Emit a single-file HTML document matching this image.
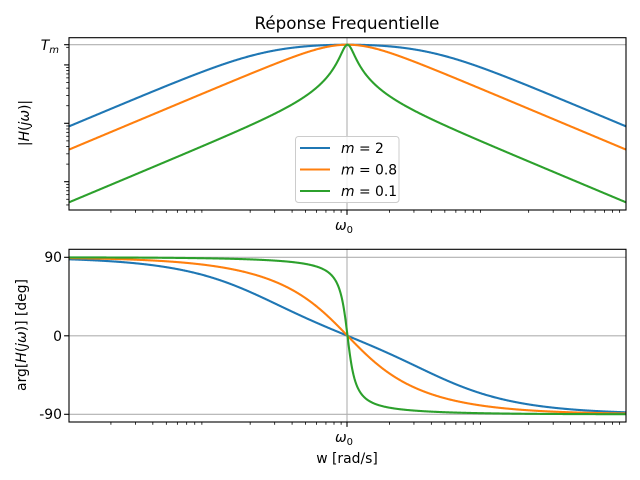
<!DOCTYPE html>
<html><head><meta charset="utf-8"><style>
html,body{margin:0;padding:0;background:#fff;}
svg{display:block;font-family:"DejaVu Sans","Liberation Sans",sans-serif;}
</style></head><body>
<svg id="s" width="640" height="480" viewBox="0 0 640 480" xmlns="http://www.w3.org/2000/svg">
<rect width="640" height="480" fill="#fff"/>
<g id="g"></g>
<text x="347" y="29" font-size="16.7" text-anchor="middle" fill="#000">Réponse Frequentielle</text>
<text x="59" y="50" font-size="13.9" text-anchor="end" font-style="italic">T<tspan font-size="10" dy="3">m</tspan></text>
<text x="62" y="262" font-size="13.9" text-anchor="end">90</text>
<text x="62" y="341" font-size="13.9" text-anchor="end">0</text>
<text x="62" y="419" font-size="13.9" text-anchor="end">-90</text>
<text x="344" y="230" font-size="13.9" text-anchor="middle" font-style="italic">ω<tspan font-size="10" dy="3" font-style="normal">0</tspan></text>
<text x="344" y="442" font-size="13.9" text-anchor="middle" font-style="italic">ω<tspan font-size="10" dy="3" font-style="normal">0</tspan></text>
<text x="347" y="463" font-size="13.9" text-anchor="middle">w [rad/s]</text>
<text transform="translate(29,123) rotate(-90)" font-size="13.9" text-anchor="middle">|<tspan font-style="italic">H</tspan>(<tspan font-style="italic">jω</tspan>)|</text>
<text transform="translate(26,335) rotate(-90)" font-size="13.9" text-anchor="middle">arg[<tspan font-style="italic">H</tspan>(<tspan font-style="italic">jω</tspan>)] [deg]</text>
<g id="leg">
<rect x="295.5" y="136.5" width="103.5" height="66" rx="3" fill="#fff" fill-opacity="0.85" stroke="#ccc" stroke-width="1"/>
<line x1="300" y1="148" x2="330" y2="148" stroke="#1f77b4" stroke-width="2.1"/>
<line x1="300" y1="169.5" x2="330" y2="169.5" stroke="#ff7f0e" stroke-width="2.1"/>
<line x1="300" y1="191" x2="330" y2="191" stroke="#2ca02c" stroke-width="2.1"/>
<text x="341" y="153" font-size="13.9"><tspan font-style="italic">m</tspan> = 2</text>
<text x="341" y="174.5" font-size="13.9"><tspan font-style="italic">m</tspan> = 0.8</text>
<text x="341" y="196" font-size="13.9"><tspan font-style="italic">m</tspan> = 0.1</text>
</g>
</svg>
<script>
(function(){
var NS="http://www.w3.org/2000/svg",g=document.getElementById("g");
function el(t,a){var e=document.createElementNS(NS,t);for(var k in a)e.setAttribute(k,a[k]);g.appendChild(e);return e;}
var X0=69,X1=626,K=(X1-X0)/4;
function xp(lu){return X0+(lu+2)*K;}
var T={y0:37.7,y1:210},B={y0:249.3,y1:422};
el("line",{x1:X0,x2:X1,y1:44.7,y2:44.7,stroke:"#b0b0b0","stroke-width":1.1});
el("line",{x1:347,x2:347,y1:T.y0,y2:T.y1,stroke:"#b0b0b0","stroke-width":1.1});
[257.3,335.8,414.3].forEach(function(y){el("line",{x1:X0,x2:X1,y1:y,y2:y,stroke:"#b0b0b0","stroke-width":1.1});});
el("line",{x1:347,x2:347,y1:B.y0,y2:B.y1,stroke:"#b0b0b0","stroke-width":1.1});
var ms=[[2,"#1f77b4"],[0.8,"#ff7f0e"],[0.1,"#2ca02c"]];
var clipT=el("clipPath",{id:"ct"});var r=document.createElementNS(NS,"rect");r.setAttribute("x",X0);r.setAttribute("y",T.y0);r.setAttribute("width",X1-X0);r.setAttribute("height",T.y1-T.y0);clipT.appendChild(r);
ms.forEach(function(mc){
 var m=mc[0],d1="",d2="";
 for(var i=0;i<=1200;i++){
  var lu=-2+4*i/1200,u=Math.pow(10,lu);
  var re=1-u*u,im=2*m*u;
  var mag=im/Math.sqrt(re*re+im*im);
  var ph=90-Math.atan2(im,re)*180/Math.PI;
  var x=xp(lu).toFixed(2);
  var y1=(44.7-58.4*Math.log10(mag)).toFixed(2);
  var y2=(335.8-ph*78.5/90).toFixed(2);
  d1+=(i?"L":"M")+x+","+y1;d2+=(i?"L":"M")+x+","+y2;
 }
 el("path",{d:d1,fill:"none",stroke:mc[1],"stroke-width":2.1,"clip-path":"url(#ct)"});
 el("path",{d:d2,fill:"none",stroke:mc[1],"stroke-width":2.1});
});
el("rect",{x:X0,y:T.y0,width:X1-X0,height:T.y1-T.y0,fill:"none",stroke:"#000","stroke-width":1.1});
el("rect",{x:X0,y:B.y0,width:X1-X0,height:B.y1-B.y0,fill:"none",stroke:"#000","stroke-width":1.1});
function xt(yb){
 for(var d=-2;d<2;d++)for(var j=2;j<=9;j++){var x=xp(d+Math.log10(j));el("line",{x1:x,x2:x,y1:yb,y2:yb+2.8,stroke:"#000","stroke-width":0.8});}
 el("line",{x1:347,x2:347,y1:yb,y2:yb+4.9,stroke:"#000","stroke-width":1.1});
}
xt(T.y1);xt(B.y1);
for(var n=-2;n<=2;n++){var D=123.3+58.4*n;
 if(D>=T.y0&&D<=T.y1)el("line",{x1:X0,x2:X0-4.9,y1:D,y2:D,stroke:"#000","stroke-width":1.1});
 for(var j=2;j<=9;j++){var y=D-58.4*Math.log10(j);if(y>=T.y0&&y<=T.y1)el("line",{x1:X0,x2:X0-2.8,y1:y,y2:y,stroke:"#000","stroke-width":0.8});}
}
el("line",{x1:X0,x2:X0-4.9,y1:44.7,y2:44.7,stroke:"#000","stroke-width":1.1});
[257.3,335.8,414.3].forEach(function(y){el("line",{x1:X0,x2:X0-4.9,y1:y,y2:y,stroke:"#000","stroke-width":1.1});});
})();
</script>
</body></html>
